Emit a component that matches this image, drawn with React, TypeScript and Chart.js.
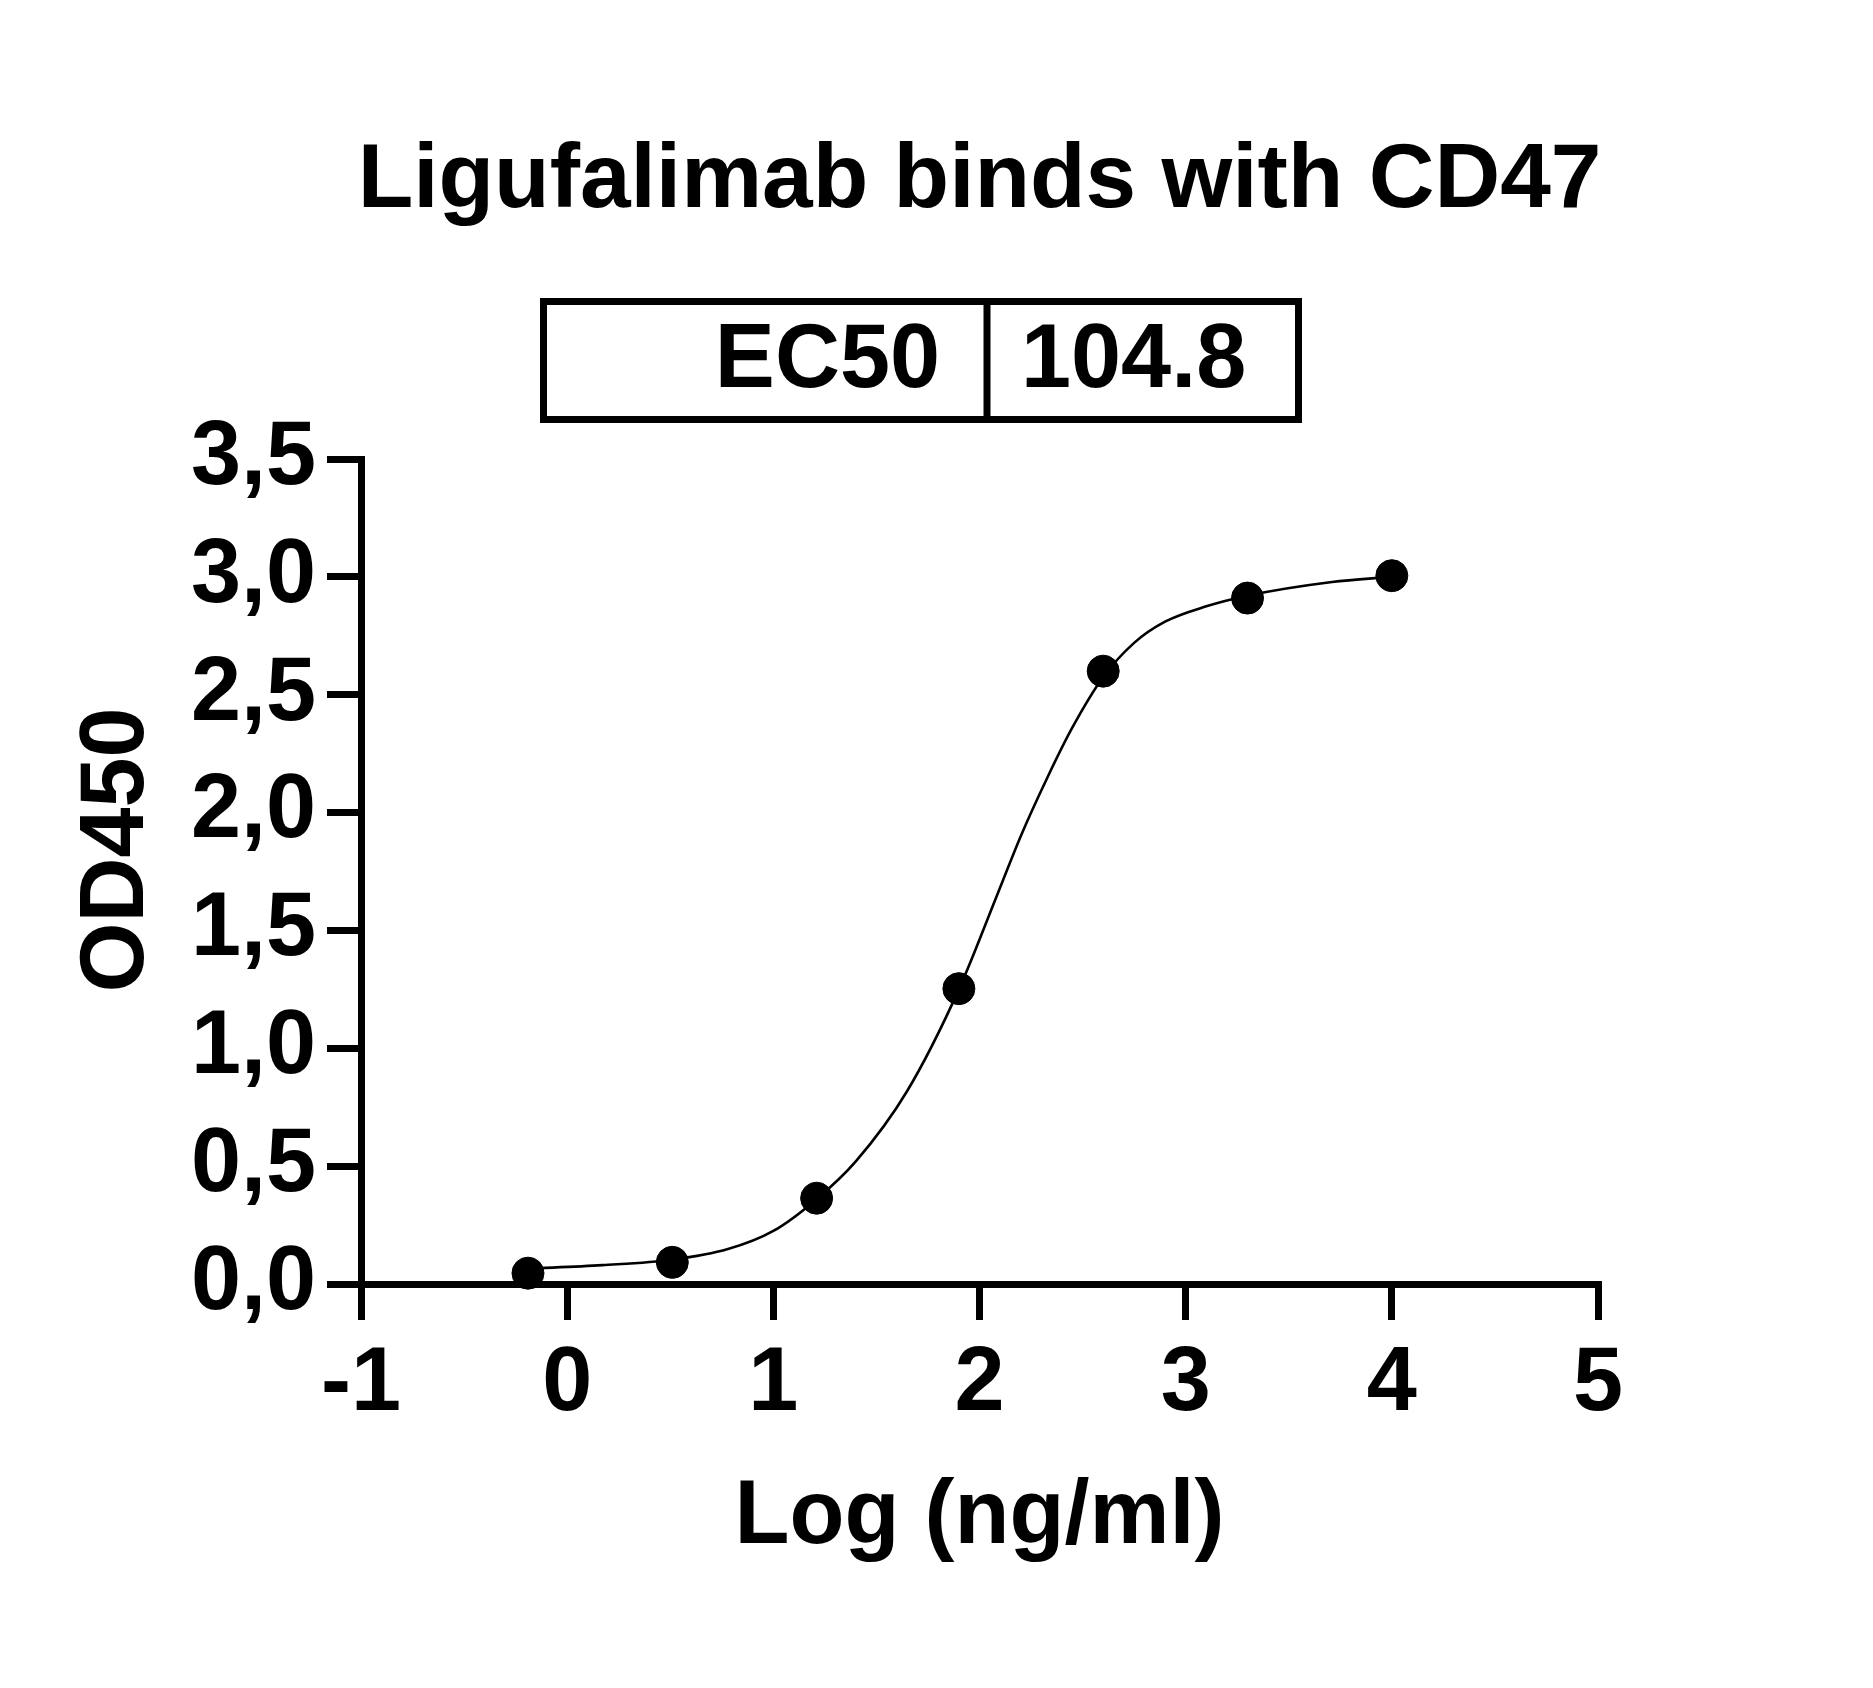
import React, { useEffect, useRef } from "react";
import { Chart, registerables } from "chart.js";

Chart.register(...registerables);

// ---- data ----
const logConc = [-0.19, 0.51, 1.21, 1.9, 2.6, 3.3, 4.0];
const od450 = [0.046, 0.092, 0.364, 1.253, 2.6, 2.91, 3.005];

// fitted curve
const curveX = [-0.19, 0.17, 0.51, 0.78, 1.0, 1.21, 1.4, 1.65, 1.9, 2.09, 2.2, 2.33, 2.45, 2.6, 2.75, 2.9, 3.1, 3.3, 3.71, 4.0];
const curveY = [0.065, 0.08, 0.103, 0.148, 0.225, 0.36, 0.52, 0.82, 1.25, 1.66, 1.9, 2.15, 2.36, 2.575, 2.72, 2.81, 2.875, 2.92, 2.978, 3.0];

const xTickLabels = ["-1", "0", "1", "2", "3", "4", "5"];
const yTickLabels = ["0,0", "0,5", "1,0", "1,5", "2,0", "2,5", "3,0", "3,5"];

const titleText = "Ligufalimab binds with CD47";
const ec50Label = "EC50";
const ec50Value = "104.8";
const xTitle = "Log (ng/ml)";
const yTitle = "OD450";

const FONT_FAMILY = '"Liberation Sans", Arial, Helvetica, sans-serif';

const textPlugin = {
  id: "textPlugin",
  afterDraw(chart: any) {
    const ctx = chart.ctx as CanvasRenderingContext2D;
    const ca = chart.chartArea;
    const cx = (ca.left + ca.right) / 2;
    ctx.save();
    ctx.fillStyle = "#000";
    ctx.strokeStyle = "#000";

    // title
    ctx.font = `bold 91px ${FONT_FAMILY}`;
    ctx.textAlign = "center";
    ctx.textBaseline = "alphabetic";
    ctx.fillText(titleText, cx, ca.top - 252);

    // EC50 table
    const bx = ca.left + 179;
    const by = ca.top - 161;
    const bw = 762;
    const bh = 125;
    const lw = 7;
    ctx.lineWidth = lw;
    ctx.strokeRect(bx + lw / 2, by + lw / 2, bw - lw, bh - lw);
    ctx.beginPath();
    ctx.moveTo(ca.left + 626, by);
    ctx.lineTo(ca.left + 626, by + bh);
    ctx.stroke();

    ctx.font = `bold 90px ${FONT_FAMILY}`;
    ctx.textAlign = "right";
    ctx.fillText(ec50Label, ca.left + 579, ca.top - 72);
    ctx.textAlign = "left";
    ctx.fillText(ec50Value, ca.left + 660, ca.top - 72);

    // x axis title
    ctx.textAlign = "center";
    ctx.fillText(xTitle, cx, ca.bottom + 259);

    // y axis title
    ctx.save();
    ctx.translate(ca.left - 218, ca.top + 391);
    ctx.rotate(-Math.PI / 2);
    ctx.textAlign = "center";
    ctx.fillText(yTitle, 0, 0);
    ctx.restore();

    ctx.restore();
  },
};

export default function App() {
  const ref = useRef<HTMLCanvasElement>(null);

  useEffect(() => {
    if (!ref.current) return;
    const tickFont = { family: FONT_FAMILY, size: 90, weight: "bold" as const };
    const chart = new Chart(ref.current, {
      type: "scatter",
      data: {
        datasets: [
          {
            label: "OD450",
            data: logConc.map((x, i) => ({ x, y: od450[i] })),
            showLine: false,
            pointRadius: 16,
            pointBackgroundColor: "#000",
            pointBorderColor: "#000",
            pointBorderWidth: 1,
            clip: false,
          } as any,
          {
            label: "fit",
            data: curveX.map((x, i) => ({ x, y: curveY[i] })),
            showLine: true,
            pointRadius: 0,
            borderColor: "#000",
            borderWidth: 2.6,
            cubicInterpolationMode: "monotone",
            clip: false,
          } as any,
        ],
      },
      options: {
        responsive: false,
        animation: false,
        devicePixelRatio: 1,
        layout: { padding: { top: 459, right: 275, bottom: 0, left: 0 } },
        plugins: {
          legend: { display: false },
          tooltip: { enabled: false },
          title: { display: false },
        },
        scales: {
          x: {
            type: "linear",
            min: -1,
            max: 5,
            afterFit: (s: any) => {
              s.height = 404;
            },
            ticks: {
              stepSize: 1,
              padding: 11,
              color: "#000",
              font: tickFont,
              maxRotation: 0,
              autoSkip: false,
              callback: (_v: any, i: number) => xTickLabels[i],
            },
            grid: {
              drawOnChartArea: false,
              drawTicks: true,
              tickLength: 36,
              lineWidth: 7,
              color: "#000",
            },
            border: { display: true, width: 7, color: "#000" },
          },
          y: {
            type: "linear",
            min: 0,
            max: 3.5,
            afterFit: (s: any) => {
              s.width = 361;
            },
            ticks: {
              stepSize: 0.5,
              padding: 11,
              color: "#000",
              font: tickFont,
              autoSkip: false,
              callback: (_v: any, i: number) => yTickLabels[i],
            },
            grid: {
              drawOnChartArea: false,
              drawTicks: true,
              tickLength: 34,
              lineWidth: 7,
              color: "#000",
            },
            border: { display: true, width: 7, color: "#000" },
          },
        },
      },
      plugins: [textPlugin],
    });
    return () => chart.destroy();
  }, []);

  return (
    <div style={{ position: "absolute", left: 0, top: 0, width: 1873, height: 1688, background: "#fff" }}>
      <canvas ref={ref} width={1873} height={1688} style={{ width: 1873, height: 1688, display: "block" }} />
    </div>
  );
}
